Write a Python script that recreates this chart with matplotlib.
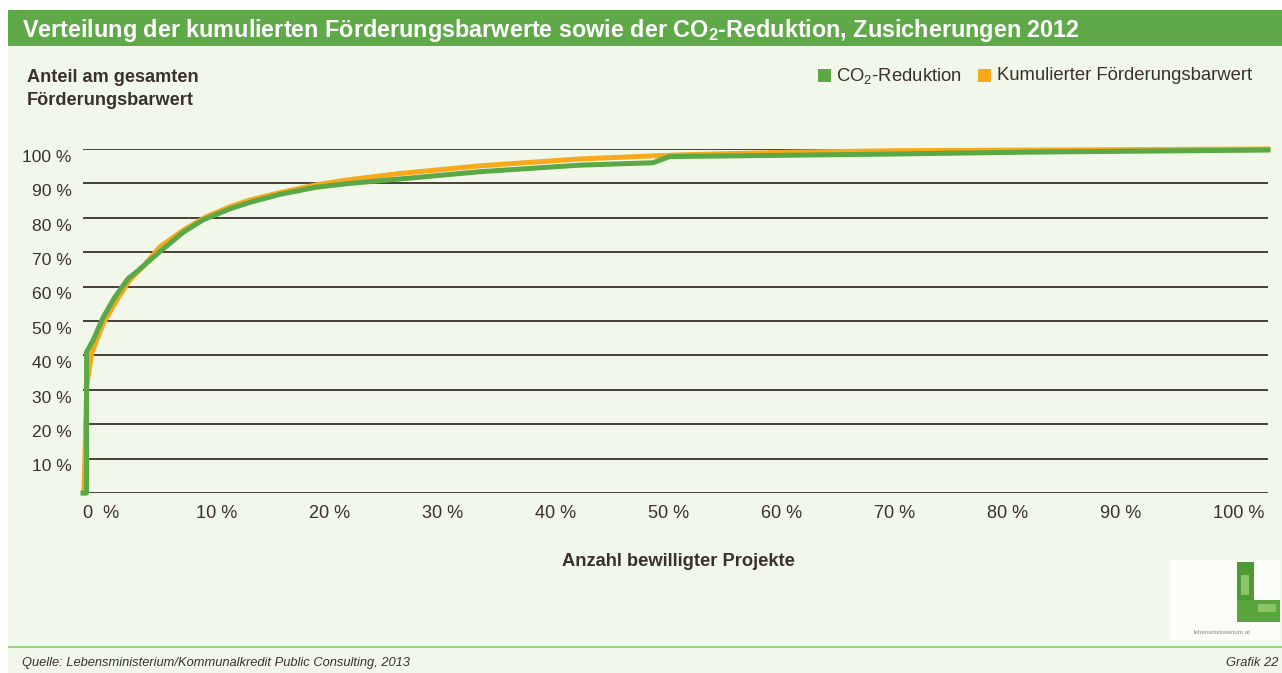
import matplotlib
matplotlib.use("Agg")
import matplotlib.pyplot as plt
from matplotlib.patches import Rectangle

plt.rcParams['font.family'] = ['Liberation Sans', 'DejaVu Sans']
plt.rcParams['mathtext.fontset'] = 'custom'
plt.rcParams['mathtext.rm'] = 'Liberation Sans'
plt.rcParams['mathtext.bf'] = 'Liberation Sans:bold'
plt.rcParams['mathtext.default'] = 'regular'

# Anteil der Projekte (%) und kumulierte Anteile (%)
co2_x = [0.0, 0.3, 0.3, 0.87, 1.69, 2.7, 3.82, 4.39, 6.5, 8.46, 10.13, 12.4, 14.1, 16.6, 19.7,
         22.5, 26.8, 33.5, 41.9, 48.1, 49.5, 60.0, 67.3, 80.0, 100.0]
co2_y = [0.0, 0.0, 41.0, 44.5, 51.0, 57.0, 62.4, 63.9, 70.2, 75.8, 79.4, 82.6, 84.5, 86.8, 88.9,
         90.0, 91.3, 93.4, 95.3, 96.0, 97.8, 98.2, 98.5, 99.1, 99.7]
barw_x = [0.08, 0.31, 0.73, 1.71, 2.84, 3.97, 5.06, 6.5, 8.46, 10.4, 12.4, 14.1, 16.6, 19.7,
          22.5, 26.8, 33.5, 41.9, 48.1, 50.4, 60.0, 68.9, 100.0]
barw_y = [0.0, 31.0, 40.6, 49.3, 56.0, 62.0, 65.8, 71.6, 76.4, 80.3, 83.2, 85.2, 87.3, 89.6,
          91.1, 92.9, 95.1, 97.1, 98.0, 98.3, 99.1, 99.5, 100.0]

x_labels = ['0  %', '10 %', '20 %', '30 %', '40 %', '50 %', '60 %', '70 %', '80 %', '90 %', '100 %']
y_ticks = [10, 20, 30, 40, 50, 60, 70, 80, 90, 100]

W, H = 1282, 673
bg = '#f1f8ea'
green = '#5aa846'
orange = '#f7a81b'
dark = '#3a3129'

fig = plt.figure(figsize=(W / 100, H / 100), dpi=100)
fig.patch.set_facecolor('white')

def px(x, y, w, h, z=-1, **kw):
    fig.patches.append(Rectangle((x / W, 1 - (y + h) / H), w / W, h / H,
                                 transform=fig.transFigure, figure=fig, zorder=z, **kw))

px(8, 46, W - 8, H - 46, z=-2, facecolor=bg, edgecolor='none')
px(8, 10, W - 8, 36, facecolor='#60a948', edgecolor='none')
px(8, 646, W - 8, 2, facecolor='#9fcf85', edgecolor='none')

fig.text(22 / W, 1 - 31 / H,
         'Verteilung der kumulierten Förderungsbarwerte sowie der CO$\\mathbf{_2}$-Reduktion, Zusicherungen 2012',
         color='white', fontsize=16.8, fontweight='bold', va='center', ha='left')

fig.text(27 / W, 1 - 89 / H, 'Anteil am gesamten\nFörderungsbarwert', fontsize=13.1,
         fontweight='bold', color=dark, va='center', ha='left', linespacing=1.45)

# Legende
px(818, 69, 13, 13, facecolor=green, edgecolor='none')
fig.text(836 / W, 1 - 76 / H, 'CO$_2$-Reduktion', fontsize=13.3, color=dark, va='center', ha='left')
px(978, 69, 13, 13, facecolor=orange, edgecolor='none')
fig.text(997 / W, 1 - 76 / H, 'Kumulierter Förderungsbarwert', fontsize=13.3, color=dark,
         va='center', ha='left')

ax = fig.add_axes([83 / W, 1 - 493 / H, 1185 / W, 344 / H])
ax.set_facecolor('none')
ax.set_xlim(0, 100)
ax.set_ylim(0, 100)
for s in ax.spines.values():
    s.set_visible(False)
ax.set_xticks([])
ax.set_yticks([])

for v in [0] + y_ticks:
    ax.axhline(v, color=dark, lw=1.3, zorder=1)
for v in y_ticks:
    ax.text(-0.0095, v - 2.4, f'{v} %', transform=ax.get_yaxis_transform(),
            ha='right', va='center', fontsize=12.6, color=dark)

step = 113 / 1185 * 100
for i, lab in enumerate(x_labels):
    ax.text(i * step, -5.9, lab, ha='left', va='center', fontsize=13.1, color=dark, clip_on=False)

ax.plot(barw_x, barw_y, color=orange, lw=3.6, solid_joinstyle='round', zorder=3, clip_on=False)
ax.plot(co2_x, co2_y, color=green, lw=3.6, solid_joinstyle='round', zorder=4, clip_on=False)

fig.text(678 / W, 1 - 562 / H, 'Anzahl bewilligter Projekte', fontsize=13.2, fontweight='bold',
         color=dark, ha='center', va='center')

# Logo
px(1170, 560, 110, 80, facecolor='#fbfdf8', edgecolor='none')
px(1237, 562, 17, 60, facecolor='#4f9a35', edgecolor='none')
px(1237, 600, 43, 22, facecolor='#5aa63e', edgecolor='none')
px(1241, 575, 8, 20, facecolor='#8cc46a', edgecolor='none')
px(1258, 604, 18, 8, facecolor='#8cc46a', edgecolor='none')
fig.text(1222 / W, 1 - 632 / H, 'lebensministerium.at', fontsize=4.5, color='#8a8a8a',
         ha='center', va='center')

fig.text(22 / W, 1 - 663 / H, 'Quelle: Lebensministerium/Kommunalkredit Public Consulting, 2013',
         fontsize=9.3, style='italic', color=dark, ha='left', va='center')
fig.text(1278 / W, 1 - 663 / H, 'Grafik 22', fontsize=9.3, style='italic', color=dark,
         ha='right', va='center')

fig.savefig('out.png', dpi=100, facecolor=fig.get_facecolor())
